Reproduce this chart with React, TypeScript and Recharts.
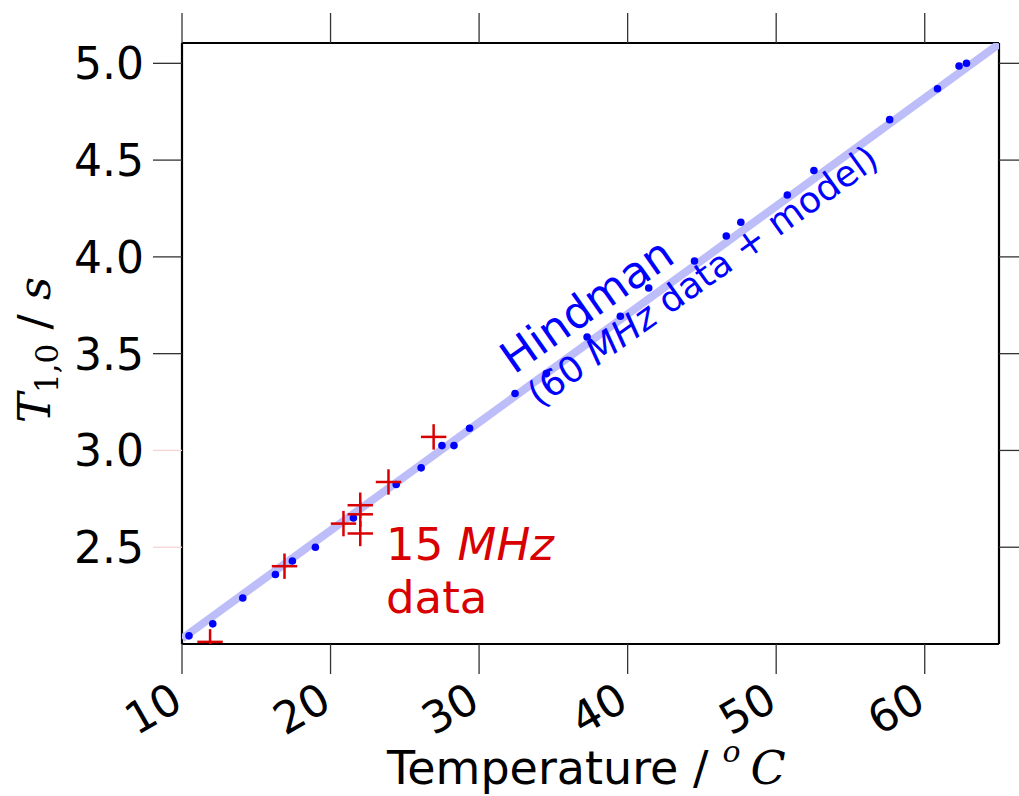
import React from 'react';
import { ScatterChart, Scatter, XAxis, YAxis } from 'recharts';

// ---- data ----
const hindmanTemp = [10.47, 12.07, 14.09, 16.29, 17.43, 18.98, 21.54, 24.42, 26.10, 27.50, 28.31, 29.36, 32.42, 34.53, 37.27, 39.51, 41.42, 44.50, 46.64, 47.62, 50.75, 52.54, 57.64, 60.86, 62.31, 62.81];
const hindmanT1 = [2.042, 2.104, 2.238, 2.359, 2.429, 2.50, 2.651, 2.824, 2.910, 3.025, 3.025, 3.115, 3.294, 3.397, 3.586, 3.693, 3.839, 3.979, 4.108, 4.179, 4.320, 4.446, 4.709, 4.869, 4.986, 5.00];
const mhz15Temp = [11.89, 16.90, 20.87, 22.0, 22.0, 22.0, 23.90, 26.94];
const mhz15T1 = [2.011, 2.402, 2.622, 2.717, 2.670, 2.571, 2.837, 3.070];
const modelTemp = [10.0, 65.0];
const modelT1 = [2.028, 5.10];
const xTicks = [10, 20, 30, 40, 50, 60];
const yTicks = [2.5, 3.0, 3.5, 4.0, 4.5, 5.0];
const xDomain = [10, 65];
const yDomain = [2.0, 5.105];

const hindmanData = hindmanTemp.map((x, i) => ({ x, y: hindmanT1[i] }));
const mhz15Data = mhz15Temp.map((x, i) => ({ x, y: mhz15T1[i] }));
const modelData = modelTemp.map((x, i) => ({ x, y: modelT1[i] }));

const SANS = "'DejaVu Sans', sans-serif";
const SERIF = "'DejaVu Serif', serif";
const BLUE = '#0000ff';
const RED = '#d80000';
const LINE_BLUE = '#bdbdf9';

const PLOT_LEFT = 182;
const PLOT_BOTTOM = 644;

const LeftTick = (props: any) => {
  const { y, payload } = props;
  const pink = payload.value <= 3.0;
  return (
    <g>
      <line x1={PLOT_LEFT - 29} x2={PLOT_LEFT} y1={y} y2={y} stroke={pink ? '#f7d4d4' : '#333'} strokeWidth={1.3} />
      <text x={PLOT_LEFT - 38} y={y + 16} textAnchor="end" fontSize={44} fontFamily={SANS} fill="#000">
        {Number(payload.value).toFixed(1)}
      </text>
    </g>
  );
};

const BottomTick = (props: any) => {
  const { x, payload } = props;
  const ax = x + 3;
  const ay = PLOT_BOTTOM + 64;
  return (
    <text x={ax} y={ay} textAnchor="end" fontSize={44} fontFamily={SANS} fill="#000" transform={`rotate(-30, ${ax}, ${ay})`}>
      {payload.value}
    </text>
  );
};

const Dot = (props: any) => {
  const { cx, cy } = props;
  if (cx == null || cy == null) return <g />;
  return <circle cx={cx} cy={cy} r={3.8} fill={BLUE} />;
};

const Cross = (props: any) => {
  const { cx, cy } = props;
  if (cx == null || cy == null) return <g />;
  const a = 12.7;
  return (
    <g stroke={RED} strokeWidth={2.5}>
      <line x1={cx - a} x2={cx + a} y1={cy} y2={cy} />
      <line x1={cx} x2={cx} y1={cy - a} y2={cy + a} />
    </g>
  );
};

const NoShape = () => <g />;

export default function App() {
  return (
    <div style={{ position: 'absolute', left: 0, top: 0, width: 1019, height: 796, background: '#fff' }}>
      <ScatterChart width={1019} height={796} margin={{ top: 13, right: 0, bottom: 0, left: 0 }}>
        <XAxis xAxisId="bottom" type="number" dataKey="x" domain={xDomain} ticks={xTicks} allowDataOverflow
          orientation="bottom" height={152} tickSize={30}
          axisLine={{ stroke: '#000', strokeWidth: 2.2 }} tickLine={{ stroke: '#333', strokeWidth: 1.3 }}
          tick={<BottomTick />} interval={0} />
        <XAxis xAxisId="top" type="number" dataKey="x" domain={xDomain} ticks={xTicks} allowDataOverflow
          orientation="top" height={30} tickSize={30}
          axisLine={{ stroke: '#000', strokeWidth: 2.2 }} tickLine={{ stroke: '#333', strokeWidth: 1.3 }}
          tickFormatter={() => ''} interval={0} />
        <YAxis yAxisId="left" type="number" dataKey="y" domain={yDomain} ticks={yTicks} allowDataOverflow
          orientation="left" width={182} tickSize={29} tickLine={false}
          axisLine={{ stroke: '#000', strokeWidth: 2.2 }} tick={<LeftTick />} interval={0} />
        <YAxis yAxisId="right" type="number" dataKey="y" domain={yDomain} ticks={yTicks} allowDataOverflow
          orientation="right" width={20} tickSize={29}
          axisLine={{ stroke: '#000', strokeWidth: 2.2 }} tickLine={{ stroke: '#333', strokeWidth: 1.3 }}
          tickFormatter={() => ''} interval={0} />
        <Scatter name="model" data={modelData} xAxisId="bottom" yAxisId="left" isAnimationActive={false}
          line={{ stroke: LINE_BLUE, strokeWidth: 8 }} shape={<NoShape />} />
        <Scatter name="Hindman" data={hindmanData} xAxisId="bottom" yAxisId="left" isAnimationActive={false}
          shape={<Dot />} />
        <Scatter name="15 MHz" data={mhz15Data} xAxisId="bottom" yAxisId="left" isAnimationActive={false}
          shape={<Cross />} />
      </ScatterChart>
      <svg width={1019} height={796} style={{ position: 'absolute', left: 0, top: 0, pointerEvents: 'none' }}>
        <text x={387} y={784} fontSize={46} fontFamily={SANS} fill="#000">
          Temperature /
          <tspan dx={14} dy={-22} fontSize={30} fontFamily={SERIF} fontStyle="italic">o</tspan>
          <tspan dx={10} dy={22} fontSize={46} fontFamily={SERIF} fontStyle="italic">C</tspan>
        </text>
        <text transform="rotate(-90, 50, 350)" x={50} y={350} textAnchor="middle" fontSize={45} fontFamily={SERIF} fill="#000">
          <tspan fontStyle="italic">T</tspan>
          <tspan fontSize={31} dy={8}>1,0</tspan>
          <tspan dy={-8} fontFamily={SANS} fontSize={45}> / </tspan>
          <tspan fontStyle="italic">s</tspan>
        </text>
        <text x={386} y={560} fontSize={45} fontFamily={SANS} fill={RED}>
          15 <tspan fontStyle="italic">MHz</tspan>
        </text>
        <text x={386} y={613} fontSize={45} fontFamily={SANS} fill={RED}>data</text>
        <text x={514} y={375} fontSize={44} fontFamily={SANS} fill={BLUE} transform="rotate(-35, 514, 375)">Hindman</text>
        <text x={539} y={408} fontSize={36} fontFamily={SANS} fill={BLUE} transform="rotate(-35.5, 539, 408)">
          (60 <tspan fontStyle="italic">MHz</tspan> data + model)
        </text>
      </svg>
    </div>
  );
}
